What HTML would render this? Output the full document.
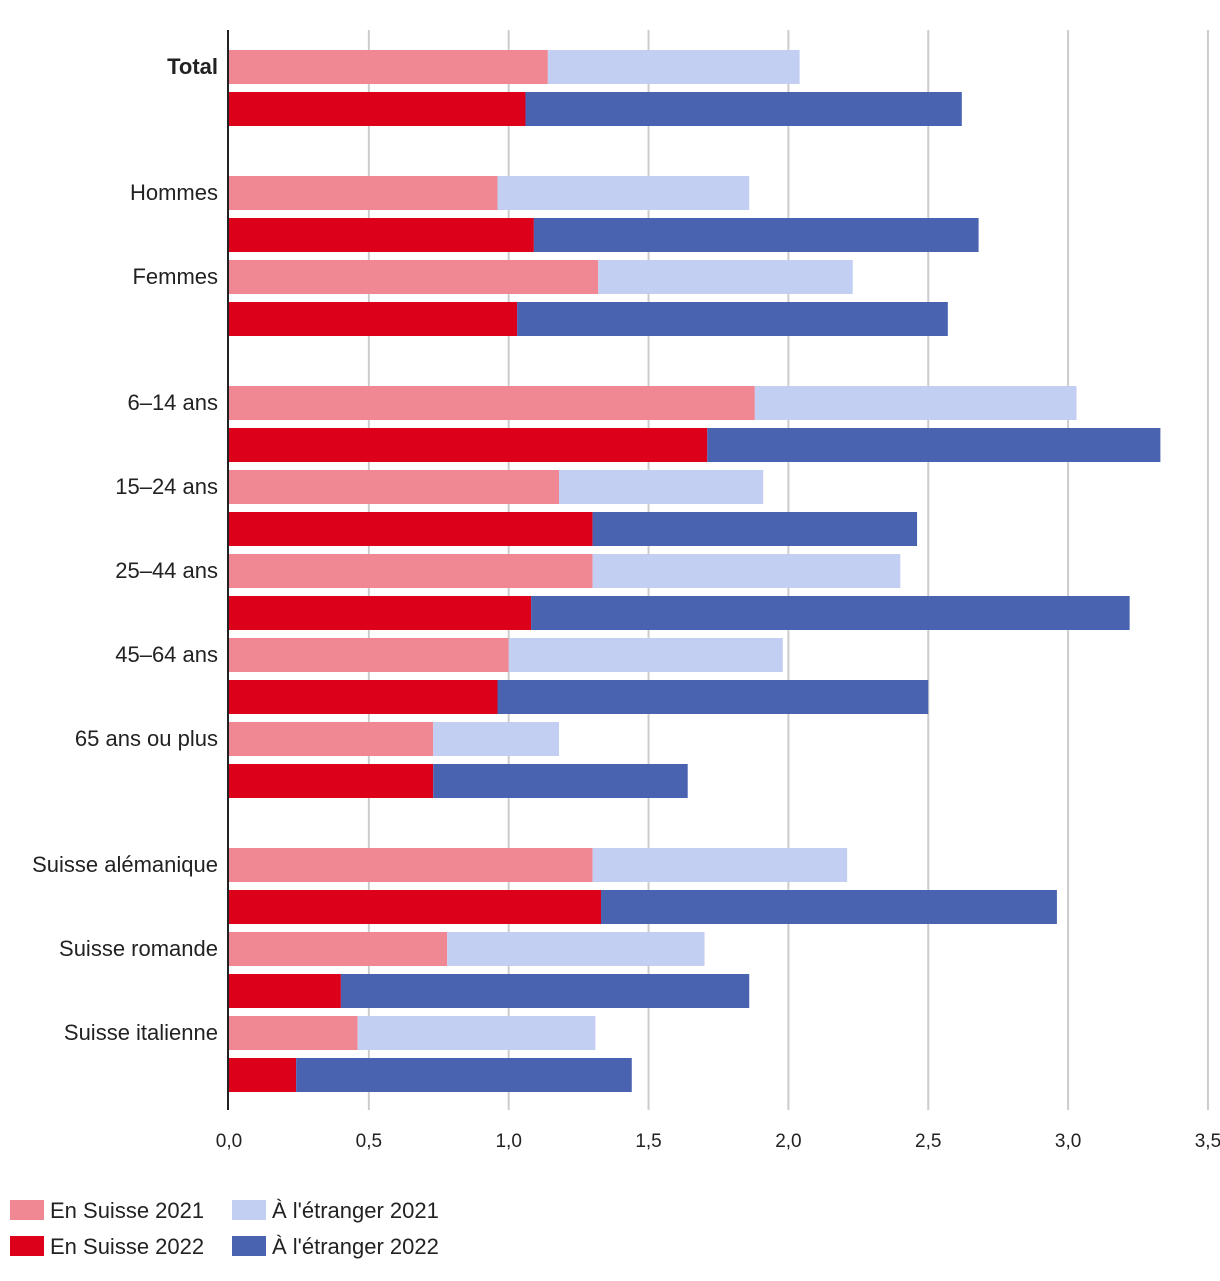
<!DOCTYPE html>
<html><head><meta charset="utf-8">
<style>
body{margin:0;background:#fff;width:1220px;height:1276px;overflow:hidden;font-family:"Liberation Sans",sans-serif;}
svg text{font-family:"Liberation Sans",sans-serif;fill:#222;}
</style></head>
<body>
<svg id="chart" width="1220" height="1276" xmlns="http://www.w3.org/2000/svg"></svg>
<script>
const categories=["Total","Hommes","Femmes","6–14 ans","15–24 ans","25–44 ans","45–64 ans","65 ans ou plus","Suisse alémanique","Suisse romande","Suisse italienne"];
const sections=[0,1,1,2,2,2,2,2,3,3,3];
const suisse2021=[1.14,0.96,1.32,1.88,1.18,1.30,1.00,0.73,1.30,0.78,0.46];
const abroad2021=[0.90,0.90,0.91,1.15,0.73,1.10,0.98,0.45,0.91,0.92,0.85];
const suisse2022=[1.06,1.09,1.03,1.71,1.30,1.08,0.96,0.73,1.33,0.40,0.24];
const abroad2022=[1.56,1.59,1.54,1.62,1.16,2.14,1.54,0.91,1.63,1.46,1.20];
const ticks=["0,0","0,5","1,0","1,5","2,0","2,5","3,0","3,5"];
const tickVals=[0,0.5,1,1.5,2,2.5,3,3.5];

const svg=document.getElementById('chart');
const NS="http://www.w3.org/2000/svg";
const x0=229,xScale=279.7;
const X=v=>x0+v*xScale;
const Y=i=>50+i*84+sections[i]*42;
function mk(tag,attrs){const e=document.createElementNS(NS,tag);for(const k in attrs)e.setAttribute(k,attrs[k]);svg.appendChild(e);return e;}

tickVals.forEach((v,i)=>{
  if(i>0){const g=mk('line',{x1:X(v),x2:X(v),y1:30,y2:1110,stroke:'#cccccc','stroke-width':2});
  
  }
  const t=mk('text',{x:X(v),y:1147,'font-size':19,'text-anchor':'middle'});
  t.textContent=ticks[i];
  
  
});
const colors={s21:'#f08893',a21:'#c2cef2',s22:'#dc001b',a22:'#4a63b1'};
categories.forEach((c,i)=>{
  const y=Y(i);
  const r1=mk('rect',{x:X(0),y:y,width:suisse2021[i]*xScale,height:34,fill:colors.s21});
  
  
  const r2=mk('rect',{x:X(suisse2021[i]),y:y,width:abroad2021[i]*xScale,height:34,fill:colors.a21});
  
  
  const r3=mk('rect',{x:X(0),y:y+42,width:suisse2022[i]*xScale,height:34,fill:colors.s22});
  
  
  const r4=mk('rect',{x:X(suisse2022[i]),y:y+42,width:abroad2022[i]*xScale,height:34,fill:colors.a22});
  
  
  const t=mk('text',{x:218,y:y+24,'font-size':22,'text-anchor':'end','font-weight':i===0?'bold':'normal'});
  t.textContent=c;
  
  
});
const ax=mk('line',{x1:228,x2:228,y1:30,y2:1110,stroke:'#222','stroke-width':2});



const legend=[["En Suisse 2021",colors.s21,10,1200],["En Suisse 2022",colors.s22,10,1236],["À l'étranger 2021",colors.a21,232,1200],["À l'étranger 2022",colors.a22,232,1236]];
legend.forEach(l=>{
  const r=mk('rect',{x:l[2],y:l[3],width:34,height:20,fill:l[1]});
  
  
  const t=mk('text',{x:l[2]+40,y:l[3]+18,'font-size':22});
  t.textContent=l[0];
  
  
});
</script>
</body></html>
